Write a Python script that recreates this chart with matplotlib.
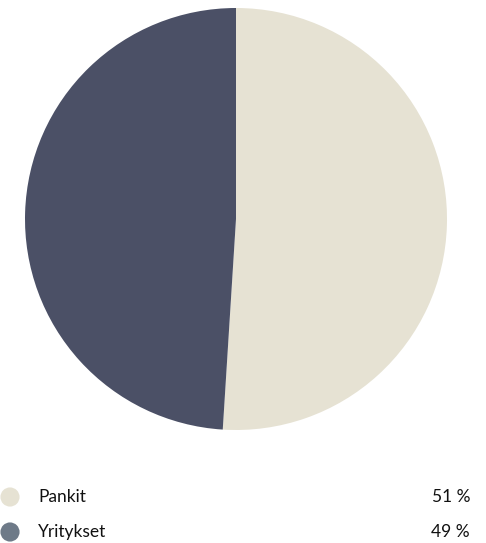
import matplotlib
matplotlib.use("Agg")
import matplotlib.pyplot as plt

labels = ["Pankit", "Yritykset"]
shares = [51, 49]
pie_colors = ["#E6E2D3", "#4B5066"]
legend_colors = ["#E6E2D3", "#6E7A88"]

plt.rcParams['font.family'] = ['Lato', 'DejaVu Sans']

fig = plt.figure(figsize=(4.86, 5.43), dpi=100)
ax = fig.add_axes([25 / 486, 1 - 430 / 543, 422 / 486, 422 / 543])
ax.pie(shares, colors=pie_colors, startangle=90, counterclock=False,
       wedgeprops={"linewidth": 0})
ax.set_xlim(-1, 1)
ax.set_ylim(-1, 1)
ax.set_aspect("equal")

# legend rows
leg = fig.add_axes([0, 0, 1, 1], facecolor="none")
leg.set_xlim(0, 486)
leg.set_ylim(543, 0)
leg.axis("off")
row_y = [497, 532]
for lab, val, col, y in zip(labels, shares, legend_colors, row_y):
    leg.scatter([10], [y], s=190, color=col, edgecolors="none")
    leg.text(38, y, lab, fontsize=12.5, va="center", ha="left", color="#111111")
    leg.text(470, y, f"{val} %", fontsize=12.5, va="center", ha="right", color="#111111")

fig.savefig("out.png", dpi=100)
